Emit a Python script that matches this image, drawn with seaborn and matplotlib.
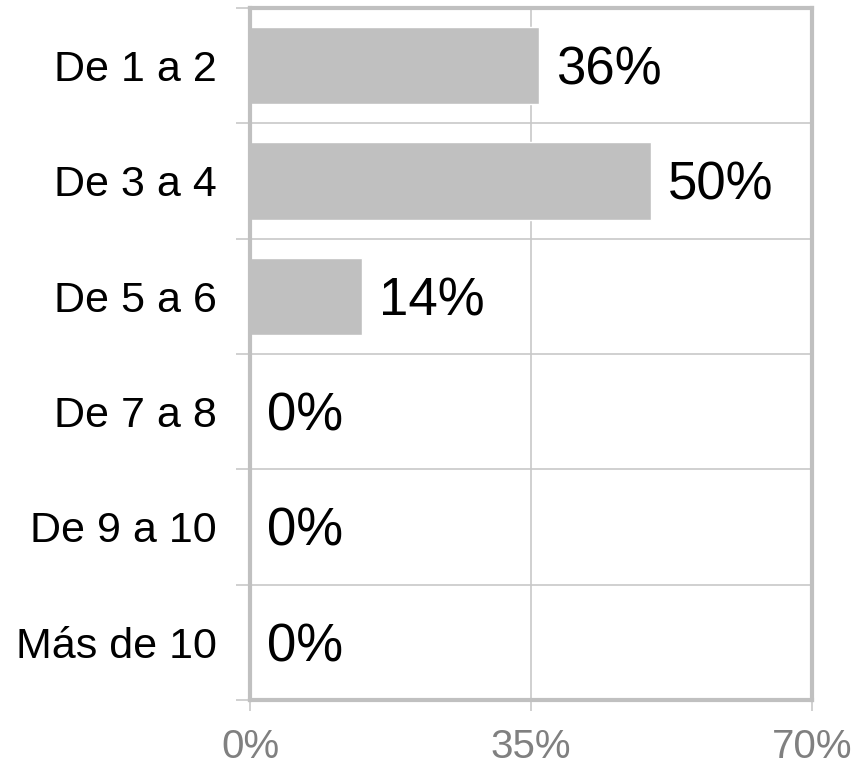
import numpy as np
import pandas as pd
import seaborn as sns
import matplotlib.pyplot as plt
from matplotlib.ticker import FixedLocator

categories = ["De 1 a 2", "De 3 a 4", "De 5 a 6", "De 7 a 8", "De 9 a 10", "Más de 10"]
values = [36, 50, 14, 0, 0, 0]
xticks = [0, 35, 70]

sns.set_style("white")
plt.rcParams['font.family'] = ['Liberation Sans', 'DejaVu Sans']

df = pd.DataFrame({"cat": categories, "pct": values})

fig = plt.figure(figsize=(8.57, 7.67), dpi=100)
ax = fig.add_axes([0.2917, 0.0874, 0.6558, 0.9022])

sns.barplot(ax=ax, data=df, y="cat", x="pct", color="#c0c0c0",
            saturation=1, width=0.67, orient="h")

grid_c = "#c8c8c8"
ax.set_xlim(0, 70)
ax.set_ylim(len(categories) - 0.5, -0.5)
ax.set_xticks(xticks)
ax.set_xticklabels([f"{t}%" for t in xticks])
ax.yaxis.set_minor_locator(FixedLocator(np.arange(-0.5, len(categories), 1)))
ax.grid(axis="x", which="major", color=grid_c, lw=1.2)
ax.grid(axis="y", which="minor", color=grid_c, lw=1.2)
ax.set_axisbelow(True)

for s in ax.spines.values():
    s.set_color("#c0c0c0")
    s.set_linewidth(3)

ax.tick_params(axis="y", which="major", length=0, labelsize=31, pad=24, labelcolor="black")
ax.tick_params(axis="y", which="minor", length=10, width=1.2, color=grid_c, left=True)
ax.tick_params(axis="x", which="major", length=8, width=1.2, color=grid_c, bottom=True,
              labelsize=29, labelcolor="#808080", pad=12)
ax.set_xlabel("")
ax.set_ylabel("")

for i, v in enumerate(values):
    ax.annotate(f"{v}%", xy=(v, i), xytext=(12, -3.5), textcoords="offset points",
                va="center", ha="left", fontsize=38, color="black")

plt.savefig("out.png", dpi=100)
